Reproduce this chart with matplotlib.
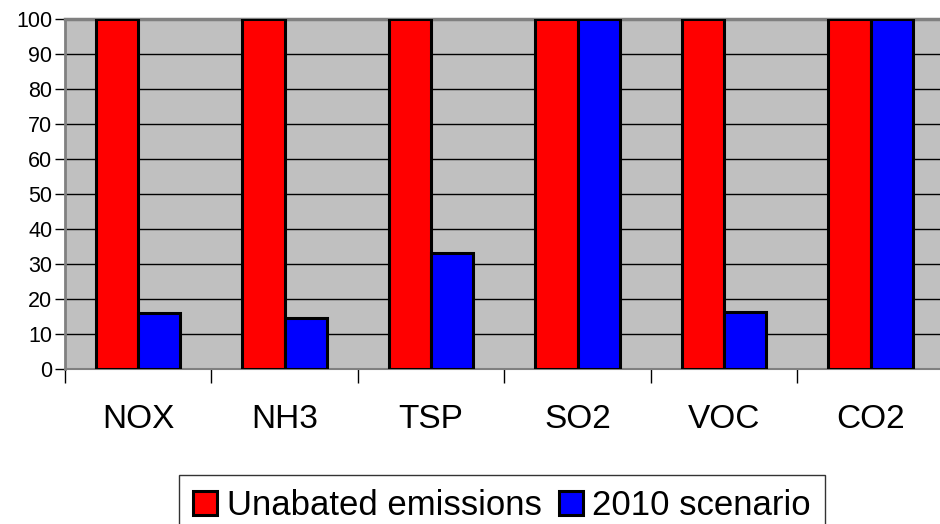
import numpy as np
import matplotlib.pyplot as plt

plt.rcParams['font.family'] = ['Liberation Sans', 'DejaVu Sans']

categories = ["NOX", "NH3", "TSP", "SO2", "VOC", "CO2"]
unabated = [100, 100, 100, 100, 100, 100]
scenario_2010 = [16, 14.6, 33.2, 100, 16.3, 100]
series_names = ["Unabated emissions", "2010 scenario"]

fig = plt.figure(figsize=(9.4, 5.24), dpi=100)
ax = fig.add_axes([0.0691, 0.2958, 0.935, 0.668])
ax.set_facecolor("#C0C0C0")

x = np.arange(len(categories))
w = 0.288
ax.bar(x - w / 2, unabated, w, color="#FF0000", edgecolor="black", linewidth=2.2,
       label=series_names[0], zorder=3)
ax.bar(x + w / 2, scenario_2010, w, color="#0000FF", edgecolor="black", linewidth=2.2,
       label=series_names[1], zorder=3)

ax.set_xlim(-0.5, len(categories) - 0.5)
ax.set_ylim(0, 100)
ax.set_yticks(range(0, 101, 10))
ax.yaxis.grid(True, color="black", linewidth=1.0, zorder=1)
ax.tick_params(axis="y", labelsize=15.5, length=7, width=1, pad=2)

# category labels centred, tick marks between categories
ax.set_xticks(x)
ax.set_xticklabels(categories, fontsize=24)
ax.tick_params(axis="x", length=0, pad=25)
ax.set_xticks(np.arange(-0.5, len(categories), 1.0), minor=True)
ax.tick_params(axis="x", which="minor", length=10, width=1, direction="out")

ax.spines["right"].set_visible(False)
ax.spines["left"].set_color("#808080")
ax.spines["left"].set_linewidth(2)
ax.spines["top"].set_color("#808080")
ax.spines["top"].set_linewidth(2.5)
ax.spines["bottom"].set_color("#808080")
ax.spines["bottom"].set_linewidth(1.5)

leg = fig.legend(loc="upper center", bbox_to_anchor=(0.534, 0.0935), ncol=2,
                 fontsize=25, frameon=True, fancybox=False, edgecolor="black",
                 handlelength=0.7, handleheight=0.7, handletextpad=0.27,
                 columnspacing=0.5, borderpad=0.4, borderaxespad=0)
leg.get_frame().set_linewidth(1.0)

fig.savefig("out.png", dpi=100)
